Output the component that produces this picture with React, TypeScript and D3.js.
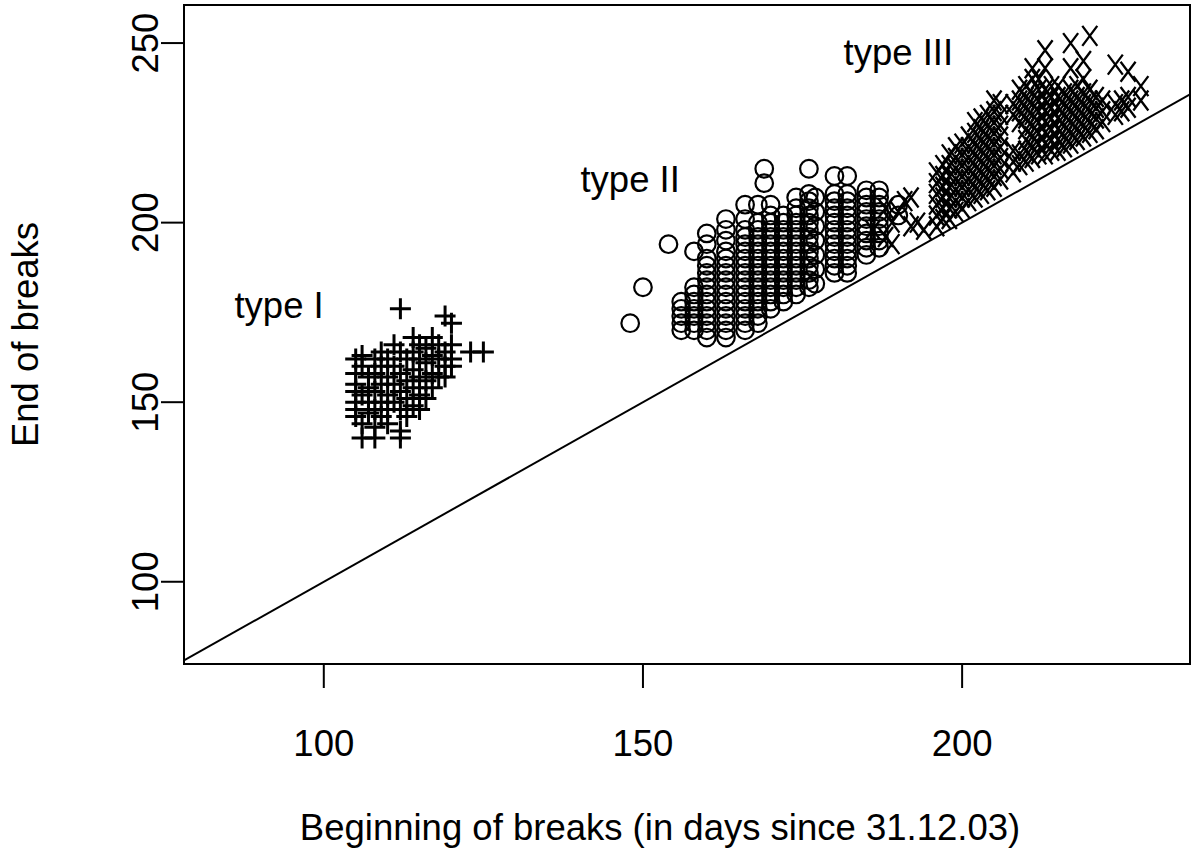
import React from "react";
import * as d3 from "d3";

// ---- data (days since 31.12.03) ----
// type I breaks: [begin, end]
const typeI: [number, number][] = [
  [105, 162], [105, 158], [105, 155], [105, 153], [105, 150], [105, 148], [105, 146],
  [106, 163], [106, 160], [106, 152], [106, 144], [106, 140],
  [107, 157], [107, 154], [107, 150], [107, 147],
  [108, 162], [108, 158], [108, 153], [108, 148], [108, 143], [108, 140],
  [109, 164], [109, 160], [109, 155], [109, 150], [109, 146],
  [110, 162], [110, 157], [110, 152], [110, 148], [110, 144],
  [111, 166], [111, 160], [111, 155], [111, 150],
  [112, 176], [112, 164], [112, 158], [112, 153], [112, 148], [112, 142], [112, 140],
  [113, 162], [113, 156], [113, 151], [113, 146],
  [114, 168], [114, 164], [114, 159], [114, 154], [114, 149],
  [115, 166], [115, 162], [115, 157], [115, 152], [115, 148],
  [116, 165], [116, 161], [116, 156], [116, 151],
  [117, 168], [117, 163], [117, 158], [117, 154],
  [118, 166], [118, 162], [118, 157],
  [119, 174], [119, 164], [119, 160], [119, 157],
  [120, 172], [120, 166], [120, 162], [120, 160],
  [123, 164], [125, 164],
];

// type II breaks: begin day -> list of end days
const typeIIColumns: [number, number[]][] = [
  [148, [172]],
  [150, [182]],
  [154, [194]],
  [156, [170, 172, 174, 176, 178]],
  [158, [170, 172, 174, 176, 178, 180, 182, 192]],
  [160, [168, 170, 172, 174, 176, 178, 180, 182, 184, 186, 188, 190, 194, 197]],
  [163, [168, 170, 172, 174, 176, 178, 180, 182, 184, 186, 188, 190, 192, 195, 198, 201]],
  [166, [170, 172, 174, 176, 178, 180, 182, 184, 186, 188, 190, 192, 194, 196, 198, 201, 205]],
  [168, [172, 174, 176, 178, 180, 182, 184, 186, 188, 190, 192, 194, 196, 198, 200, 205]],
  [169, [211, 215]],
  [170, [176, 178, 180, 182, 184, 186, 188, 190, 192, 194, 196, 198, 200, 202, 205]],
  [172, [178, 180, 182, 184, 186, 188, 190, 192, 194, 196, 198, 200, 202]],
  [174, [180, 182, 184, 186, 188, 190, 192, 194, 196, 198, 200, 202, 204, 207]],
  [176, [182, 184, 186, 188, 190, 192, 194, 196, 198, 200, 202, 204, 206, 208, 215]],
  [177, [183, 187, 191, 195, 199, 203, 207]],
  [180, [186, 188, 190, 192, 194, 196, 198, 200, 202, 204, 206, 208, 213]],
  [182, [186, 188, 190, 192, 194, 196, 198, 200, 202, 204, 206, 208, 213]],
  [185, [191, 193, 195, 197, 199, 201, 203, 205, 207, 209]],
  [187, [193, 195, 197, 199, 201, 203, 205, 207, 209]],
  [190, [202, 205]],
];

// type III breaks: begin day -> list of end days
const typeIIIColumns: [number, number[]][] = [
  [186, [198]],
  [188, [196, 204]],
  [189, [194, 200]],
  [190, [203]],
  [191, [206]],
  [192, [199, 207]],
  [193, [200]],
  [194, [198]],
  [196, [199, 202, 205, 208, 211, 214]],
  [197, [201, 204, 207, 210, 213, 216]],
  [198, [201, 204, 207, 210, 213, 216, 219]],
  [199, [203, 206, 209, 212, 215, 218, 221]],
  [200, [204, 207, 210, 213, 216, 219, 222]],
  [201, [206, 209, 212, 215, 218, 221, 224]],
  [202, [207, 210, 213, 216, 219, 222, 225, 228]],
  [203, [208, 211, 214, 217, 220, 223, 226, 229]],
  [204, [209, 212, 215, 218, 221, 224, 227, 230]],
  [205, [210, 213, 216, 219, 222, 225, 228, 231, 234]],
  [206, [212, 215, 218, 221, 224, 227, 230, 233]],
  [208, [214, 217, 220, 230, 233]],
  [209, [216, 219, 228, 231, 234, 237]],
  [210, [217, 220, 223, 226, 229, 232, 235, 238]],
  [211, [218, 221, 224, 227, 230, 233, 236, 240, 243]],
  [212, [219, 222, 225, 228, 231, 234, 237, 240]],
  [213, [219, 222, 225, 228, 231, 234, 237, 243, 248]],
  [214, [220, 223, 226, 229, 232, 235, 238]],
  [215, [220, 223, 226, 229, 232, 235, 238]],
  [216, [221, 224, 227, 230, 233, 236]],
  [217, [222, 225, 228, 231, 234, 237, 243, 250]],
  [218, [223, 226, 229, 232, 235, 238]],
  [219, [224, 227, 230, 233, 236, 240, 245]],
  [220, [225, 228, 231, 234, 237, 252]],
  [221, [226, 229, 232, 235]],
  [222, [228, 231, 234]],
  [224, [230, 233, 244]],
  [225, [231, 234]],
  [226, [232, 235, 242]],
  [228, [234, 238]],
];

const xTicks = [100, 150, 200];
const yTicks = [100, 150, 200, 250];
const groupLabels: { text: string; x: number; y: number }[] = [
  { text: "type I", x: 93, y: 177 },
  { text: "type II", x: 148, y: 212 },
  { text: "type III", x: 190, y: 247.5 },
];
const xTitle = "Beginning of breaks (in days since 31.12.03)";
const yTitle = "End of breaks";

const W = 1200;
const H = 854;
const L = 184, R = 1190, T = 5, B = 664;
const FONT = "'Liberation Sans', Arial, Helvetica, sans-serif";
const FS = 36.5;

export default function App() {
  const x = d3.scaleLinear().domain([78.1, 235.7]).range([L, R]);
  const y = d3.scaleLinear().domain([77.1, 260.6]).range([B, T]);

  const typeII = typeIIColumns.flatMap(([b, ends]) => ends.map((e) => [b, e] as [number, number]));
  const typeIII = typeIIIColumns.flatMap(([b, ends]) => ends.map((e) => [b, e] as [number, number]));

  const diagLo = 78.1;
  const diagHi = 235.7;
  const line = d3.line<number>().x((d) => x(d)).y((d) => y(d));

  const plusD = 10.5;
  const xd = 7.5, yd = 10;

  return (
    <svg
      width={W}
      height={H}
      style={{ position: "absolute", left: 0, top: 0, background: "#fff" }}
      fontFamily={FONT}
    >
      <rect x={0} y={0} width={W} height={H} fill="#fff" />
      <defs>
        <clipPath id="plotclip">
          <rect x={L} y={T} width={R - L} height={B - T} />
        </clipPath>
      </defs>

      {/* diagonal y = x */}
      <path
        d={line([diagLo, diagHi]) || ""}
        stroke="#000"
        strokeWidth={2}
        fill="none"
        clipPath="url(#plotclip)"
      />

      {/* type I: plus */}
      <g stroke="#000" strokeWidth={3} fill="none">
        {typeI.map(([b, e], i) => {
          const cx = x(b), cy = y(e);
          return (
            <path
              key={"p" + i}
              d={`M${cx - plusD},${cy}H${cx + plusD}M${cx},${cy - plusD}V${cy + plusD}`}
            />
          );
        })}
      </g>

      {/* type II: open circles */}
      <g stroke="#000" strokeWidth={2.2} fill="none">
        {typeII.map(([b, e], i) => (
          <circle key={"c" + i} cx={x(b)} cy={y(e)} r={8.8} />
        ))}
      </g>

      {/* type III: crosses */}
      <g stroke="#000" strokeWidth={2.3} fill="none">
        {typeIII.map(([b, e], i) => {
          const cx = x(b), cy = y(e);
          return (
            <path
              key={"x" + i}
              d={`M${cx - xd},${cy - yd}L${cx + xd},${cy + yd}M${cx - xd},${cy + yd}L${cx + xd},${cy - yd}`}
            />
          );
        })}
      </g>

      {/* group labels */}
      {groupLabels.map((g) => (
        <text
          key={g.text}
          x={x(g.x)}
          y={y(g.y)}
          dy="0.35em"
          textAnchor="middle"
          fontSize={FS}
          fill="#000"
        >
          {g.text}
        </text>
      ))}

      {/* box */}
      <rect x={L} y={T} width={R - L} height={B - T} fill="none" stroke="#000" strokeWidth={2} />

      {/* x axis */}
      <g stroke="#000" strokeWidth={2}>
        {xTicks.map((t) => (
          <line key={"xt" + t} x1={x(t)} x2={x(t)} y1={B} y2={B + 24} />
        ))}
      </g>
      {xTicks.map((t) => (
        <text key={"xl" + t} x={x(t)} y={756} textAnchor="middle" fontSize={FS} fill="#000">
          {t}
        </text>
      ))}

      {/* y axis */}
      <g stroke="#000" strokeWidth={2}>
        {yTicks.map((t) => (
          <line key={"yt" + t} x1={L - 23} x2={L} y1={y(t)} y2={y(t)} />
        ))}
      </g>
      {yTicks.map((t) => (
        <text
          key={"yl" + t}
          transform={`translate(158,${y(t)}) rotate(-90)`}
          textAnchor="middle"
          fontSize={FS}
          fill="#000"
        >
          {t}
        </text>
      ))}

      {/* titles */}
      <text x={660} y={840} textAnchor="middle" fontSize={FS} fill="#000">
        {xTitle}
      </text>
      <text
        transform={`translate(38,${(T + B) / 2}) rotate(-90)`}
        textAnchor="middle"
        fontSize={FS}
        fill="#000"
      >
        {yTitle}
      </text>
    </svg>
  );
}
